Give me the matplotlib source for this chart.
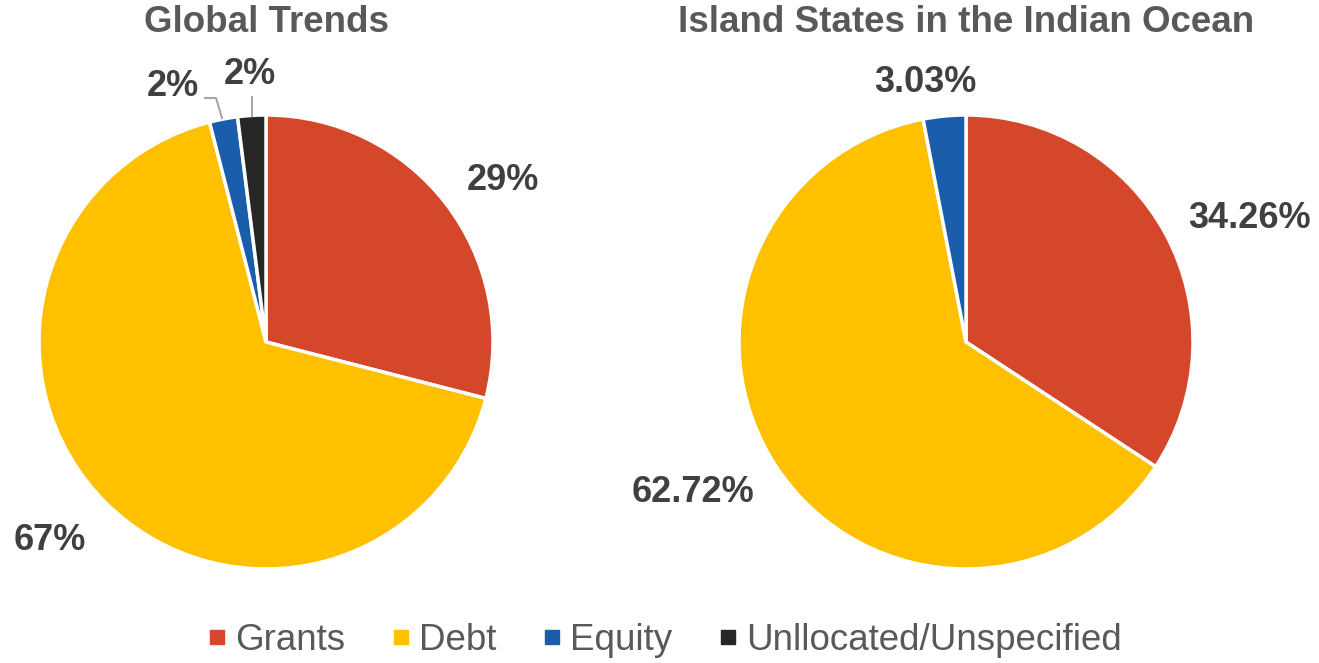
import matplotlib.pyplot as plt
from matplotlib.lines import Line2D

plt.rcParams['font.family'] = ['Liberation Sans', 'DejaVu Sans']

categories = ['Grants', 'Debt', 'Equity', 'Unllocated/Unspecified']
colors = ['#D4472B', '#FFC000', '#1A5EAB', '#262626']

global_vals = [29, 67, 2, 2]
global_labels = ['29%', '67%', '2%', '2%']
island_vals = [34.26, 62.72, 3.03]
island_labels = ['34.26%', '62.72%', '3.03%']

W, H = 1319, 663
fig = plt.figure(figsize=(W / 100, H / 100), dpi=100)
ax = fig.add_axes([0, 0, 1, 1])


def py(y):
    # pixel row (from top) -> data y
    return H - y


R = 227
wp = dict(edgecolor='white', linewidth=2.5)
ax.pie(global_vals, colors=colors, startangle=90, counterclock=False,
       center=(266, py(342)), radius=R, wedgeprops=wp, frame=True)
ax.pie(island_vals, colors=colors[:3], startangle=90, counterclock=False,
       center=(966, py(342)), radius=R, wedgeprops=wp, frame=True)
ax.set_xlim(0, W)
ax.set_ylim(0, H)
ax.axis('off')

lab = dict(fontsize=26, fontweight='bold', color='#404040', ha='center', va='center')
# left pie labels
ax.text(503, py(181), global_labels[0], **lab)
ax.text(50, py(540), global_labels[1], **lab)
ax.text(173, py(87), global_labels[2], **lab)
ax.text(250, py(75), global_labels[3], **lab)
ax.plot([205, 216, 222], [py(98), py(98), py(118)], color='#A6A6A6', lw=1.5)
ax.plot([252, 252], [py(97), py(116)], color='#A6A6A6', lw=1.5)
# right pie labels
ax.text(1250, py(218), island_labels[0], **lab)
ax.text(693, py(493), island_labels[1], **lab)
ax.text(925, py(83), island_labels[2], **lab)

tt = dict(fontsize=26.5, fontweight='bold', color='#595959', ha='center', va='center')
ax.text(266, py(22), 'Global Trends', **tt)
ax.text(966, py(22), 'Island States in the Indian Ocean', **tt)

handles = [Line2D([], [], marker='s', linestyle='none', markersize=10,
                  markerfacecolor=c, markeredgecolor=c) for c in colors]
fig.legend(handles, categories, loc='center', bbox_to_anchor=(664 / W, 1 - 640 / H),
           ncol=4, frameon=False, fontsize=26.5, labelcolor='#595959',
           handletextpad=0.2, columnspacing=1.2, handlelength=0.6)

fig.savefig('out.png', dpi=100)
